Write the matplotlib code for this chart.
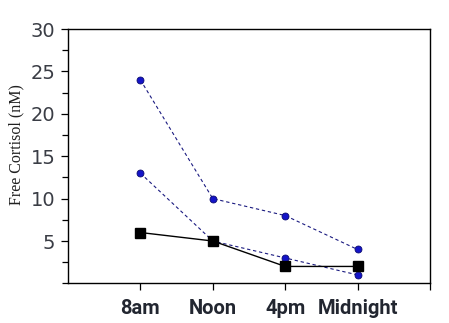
import matplotlib.pyplot as plt
from matplotlib.ticker import MultipleLocator

times = ['8am', 'Noon', '4pm', 'Midnight']
subject_a = [24, 10, 8, 4]
subject_b = [13, 5, 3, 1]
mean_cortisol = [6, 5, 2, 2]

pos = [1, 2, 3, 4]

fig = plt.figure(figsize=(4.49, 3.23), dpi=100)
ax = fig.add_axes([0.1514, 0.1226, 0.8063, 0.7876])

# individual subjects: dashed blue with round markers
for vals in (subject_a, subject_b):
    ax.plot(pos, vals, linestyle=(0, (3, 2.5)), color='#1a1a80', linewidth=0.8,
            marker='o', markersize=5, markerfacecolor='#1414c8',
            markeredgecolor='#0a0a70', markeredgewidth=0.6)

# group curve: solid black with squares
ax.plot(pos, mean_cortisol, color='black', linewidth=1.0,
        marker='s', markersize=7.5, markerfacecolor='black', markeredgecolor='black')

ax.set_xlim(0, 5)
ax.set_ylim(0, 30)
ax.set_xticks([1, 2, 3, 4, 5])
ax.set_xticklabels(times + [''], family='Roboto', fontweight='bold', fontsize=14.5, color='#222630')
ax.set_yticks([5, 10, 15, 20, 25, 30])
ax.yaxis.set_minor_locator(MultipleLocator(2.5))
for lbl in ax.get_yticklabels():
    lbl.set_family('DejaVu Sans')
    lbl.set_fontsize(14)
    lbl.set_color('#3a3d45')

ax.tick_params(axis='x', direction='out', length=5, width=0.9, pad=6)
ax.tick_params(axis='y', which='major', direction='out', length=5, width=0.9, pad=4)
ax.tick_params(axis='y', which='minor', direction='out', length=4, width=0.9)

for sp in ax.spines.values():
    sp.set_linewidth(1.0)
    sp.set_color('black')

ax.set_ylabel('Free Cortisol (nM)', family='Liberation Serif', fontsize=11.5, color='#202020')
ax.yaxis.set_label_coords(-0.12, 0.545)

fig.savefig('out.png', dpi=100)
